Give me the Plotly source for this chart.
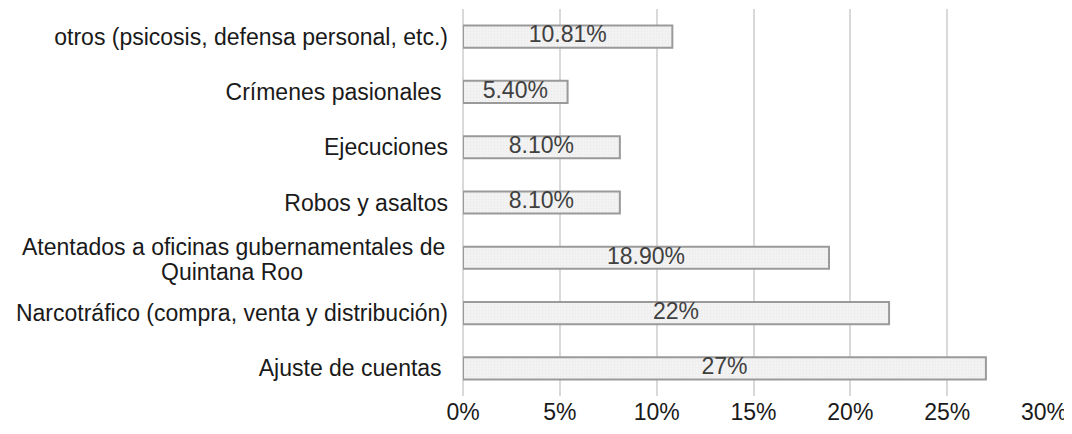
import plotly.graph_objects as go

categories = [
    "Ajuste de cuentas ",
    "Narcotráfico (compra, venta y distribución)",
    "Atentados a oficinas gubernamentales de Quintana Roo",
    "Robos y asaltos",
    "Ejecuciones",
    "Crímenes pasionales ",
    "otros (psicosis, defensa personal, etc.)",
]
# the long category label is drawn on two centred lines
wrapped_label = ["Atentados a oficinas gubernamentales de", "Quintana Roo"]
values = [27, 22, 18.9, 8.1, 8.1, 5.4, 10.81]
value_labels = ["27%", "22%", "18.90%", "8.10%", "8.10%", "5.40%", "10.81%"]
x_ticks = [0, 5, 10, 15, 20, 25, 30]
x_tick_labels = ["0%", "5%", "10%", "15%", "20%", "25%", "30%"]

FONT = "Liberation Sans, Arial"
TXT = "#1a1a1a"

fig = go.Figure()
fig.add_trace(
    go.Bar(
        y=categories,
        x=values,
        orientation="h",
        marker=dict(color="#efefef", line=dict(color="#9a9a9a", width=2),
                    pattern=dict(shape=".", fgcolor="#e0e0e0", bgcolor="#f2f2f2", size=3, solidity=0.15)),
        hoverinfo="skip",
    )
)
fig.add_trace(
    go.Scatter(
        y=categories,
        x=[v / 2 for v in values],
        mode="text",
        text=value_labels,
        textposition="middle center",
        textfont=dict(family=FONT, size=23, color="#404040"),
        hoverinfo="skip",
    )
)

y_tick_text = ["" if c == categories[2] else c for c in categories]

# figure is offset by the 8px default body margin of the page
fig.update_layout(
    width=1072,
    height=434,
    margin=dict(l=455, r=36, t=1, b=46),
    paper_bgcolor="white",
    plot_bgcolor="white",
    bargap=0.6,
    showlegend=False,
    font=dict(family=FONT, size=23, color=TXT),
)
fig.add_annotation(
    x=0, xref="paper", y=categories[2], yref="y",
    text=wrapped_label[0], showarrow=False,
    xanchor="right", yanchor="middle", xshift=-16, yshift=11,
    font=dict(family=FONT, size=23, color=TXT),
)
fig.add_annotation(
    x=0, xref="paper", y=categories[2], yref="y",
    text=wrapped_label[1], showarrow=False,
    xanchor="center", yanchor="middle", xshift=-231, yshift=-14,
    font=dict(family=FONT, size=23, color=TXT),
)
fig.update_xaxes(
    range=[0, 30],
    tickvals=x_ticks,
    ticktext=x_tick_labels,
    showgrid=True,
    gridcolor="#d9d9d9",
    gridwidth=1.5,
    zeroline=True,
    zerolinecolor="#d9d9d9",
    zerolinewidth=1.5,
    showline=False,
    ticks="",
    automargin=False,
)
fig.update_yaxes(
    tickvals=categories,
    ticktext=y_tick_text,
    showgrid=False,
    showline=False,
    ticks="",
    ticklabelstandoff=14,
    automargin=False,
)

fig.write_html("out.html")
